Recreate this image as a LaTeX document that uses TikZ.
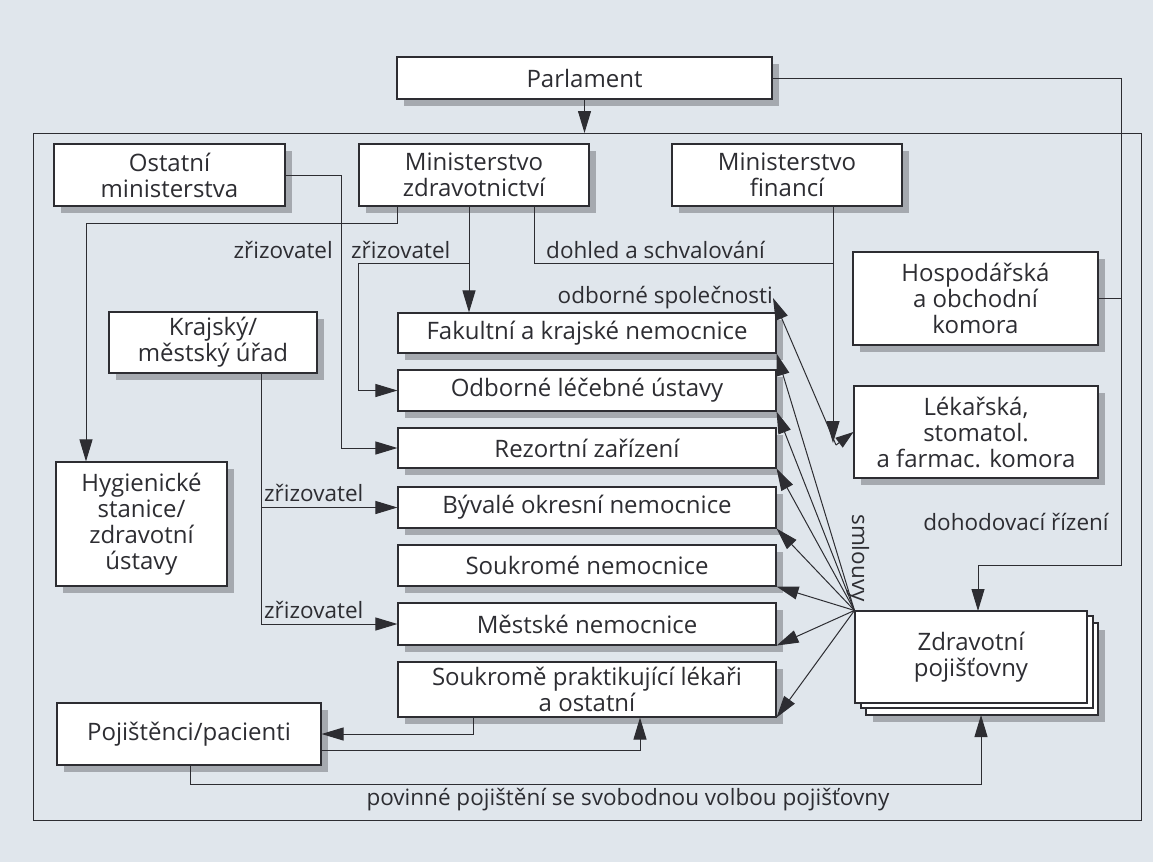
\documentclass[tikz,border=0pt]{standalone}
\usepackage{fontspec}
\setmainfont{Open Sans}
\usetikzlibrary{arrows.meta,calc}
\definecolor{bg}{RGB}{224,230,236}
\definecolor{ink}{RGB}{45,45,50}
\definecolor{shad}{RGB}{165,169,175}
\begin{document}
\begin{tikzpicture}[x=1pt,y=-1pt,
  sheet/.style={draw=ink,line width=1.1pt,fill=white},
  shd/.style={preaction={fill=shad,draw=none,transform canvas={xshift=7pt,yshift=-7pt}}},
  boxns/.style={sheet,text=ink,align=center,inner sep=1pt,font=\fontsize{24}{26}\selectfont},
  box/.style={boxns,shd},
  ln/.style={draw=ink,line width=1pt},
  arr/.style={ln,-{Triangle[length=22pt,width=13pt]}},
  lbl/.style={text=ink,inner sep=0pt,font=\fontsize{22.5}{25}\selectfont}]
\useasboundingbox (0,0) rectangle (1153,862);
\fill[bg] (0,0) rectangle (1153,862);
% outer frame
\draw[ln] (33,133) rectangle (1141,820);

% boxes
\node[box,minimum width=375pt,minimum height=42pt] (parl) at (584.5,78) {Parlament};
\node[box,minimum width=231pt,minimum height=62pt] (ostatni) at (169.5,175) {Ostatní\\ministerstva};
\node[box,minimum width=230pt,minimum height=62pt] (mz) at (474,175) {Ministerstvo\\zdravotnictví};
\node[box,minimum width=230pt,minimum height=62pt] (mf) at (787,175) {Ministerstvo\\financí};
\node[box,minimum width=245pt,minimum height=93pt] (hosp) at (975.5,298.5) {Hospodářská\\a obchodní\\komora};
\node[box,minimum width=244pt,minimum height=92pt] (lek) at (976,432) {Lékařská,\\stomatol.\\a farmac. komora};
\node[box,minimum width=208pt,minimum height=61pt] (kraj) at (213,342.5) {Krajský/\\městský úřad};
\node[box,minimum width=171pt,minimum height=124pt] (hyg) at (141.5,524) {Hygienické\\stanice/\\zdravotní\\ústavy};
\node[box,minimum width=378pt,minimum height=40pt] (fak) at (587,333) {Fakultní a krajské nemocnice};
\node[box,minimum width=378pt,minimum height=41pt] (odb) at (587,390.5) {Odborné léčebné ústavy};
\node[box,minimum width=378pt,minimum height=40pt] (rez) at (587,448) {Rezortní zařízení};
\node[box,minimum width=378pt,minimum height=41pt] (byv) at (587,507.5) {Bývalé okresní nemocnice};
\node[box,minimum width=378pt,minimum height=41pt] (souk) at (587,565.5) {Soukromé nemocnice};
\node[box,minimum width=378pt,minimum height=42pt] (mest) at (587,624) {Městské nemocnice};
\node[box,minimum width=378pt,minimum height=55pt] (sprak) at (587,689.5) {Soukromě praktikující lékaři\\a ostatní};
\node[box,minimum width=264pt,minimum height=62pt] (poj) at (189,734) {Pojištěnci/pacienti};
% stacked insurers
\draw[sheet,shd] (866,623) rectangle (1098,715);
\draw[sheet] (861,616) rectangle (1093,708);
\node[boxns,minimum width=232pt,minimum height=92pt] (zp) at (971,657) {Zdravotní\\pojišťovny};

% labels
\node[lbl,anchor=east] (z1) at (333,250) {zřizovatel};
\node[lbl,anchor=west] (z2) at (351,250) {zřizovatel};
\node[lbl,anchor=west] (dohled) at (546,250) {dohled a schvalování};
\node[lbl,anchor=west] (z3) at (264,493) {zřizovatel};
\node[lbl,anchor=west] (z4) at (264,610) {zřizovatel};
\node[lbl,anchor=east] (os) at (773,298) {odborné společnosti};
\node[lbl,rotate=-90] (sml) at (858,558) {smlouvy};
\node[lbl] (doh) at (1016,522) {dohodovací řízení};
\node[lbl] (pov) at (628,800) {povinné pojištění se svobodnou volbou pojišťovny};

% Parlament
\coordinate (ftop) at (584.5,133);
\draw[arr] (parl.south) -- (ftop);
\coordinate (pr1) at (1121,565);
\coordinate (zpin) at (978,611);
\draw[arr] (parl.east) -| (pr1) -| (zpin);
\draw[ln] (hosp.east) -- (hosp.east -| pr1);

% Ostatni ministerstva
\coordinate (oc) at (341,0);
\draw[arr] (ostatni.east) -| (oc |- rez.west) -- (rez.west);

% Ministerstvo zdravotnictvi
\coordinate (mzx1) at (397,223);
\coordinate (hygx) at (86,223);
\draw[arr] (mz.south -| mzx1) -- (mzx1) -- (hygx) -- (hygx |- hyg.north);
\coordinate (mzx2) at (469,263);
\draw[arr] (mz.south -| mzx2) -- (mzx2 |- fak.north);
\coordinate (odx) at (358,263);
\draw[arr] (mzx2) -- (odx) -- (odx |- odb.west) -- (odb.west);
\coordinate (mzx3) at (534,263);
\coordinate (mfx) at (833,263);
\draw[ln] (mz.south -| mzx3) -- (mzx3) -- (mfx);

% Ministerstvo financi
\coordinate (mfend) at (833,443);
\draw[arr] (mf.south -| mfend) -- (mfend);

% odborne spolecnosti - komora
\coordinate (lj) at (836,445);
\draw[arr] (lj) -- (os.east);
\draw[ln,-{Triangle[length=18pt,width=12pt]}] (lj) -- (lek.west);

% Krajsky urad
\coordinate (kx) at (261,0);
\draw[arr] (kraj.south -| kx) |- (mest.west);
\draw[arr] (kx |- byv.west) -- (byv.west);

% smlouvy fan
\foreach \b in {fak,odb,rez,byv,souk,mest,sprak}
  \draw[arr] (zp.north west) -- (\b.south east);

% pacienti
\coordinate (spx) at (473,0);
\draw[arr] (sprak.south -| spx) |- (poj.east);
\coordinate (pjy) at (640,750);
\draw[arr] (poj.east |- pjy) -| (sprak.south -| pjy);
\coordinate (pby) at (190,784);
\coordinate (zpbot) at (981,715);
\draw[arr] (poj.south -| pby) -- (pby) -| (zpbot);
\end{tikzpicture}
\end{document}
